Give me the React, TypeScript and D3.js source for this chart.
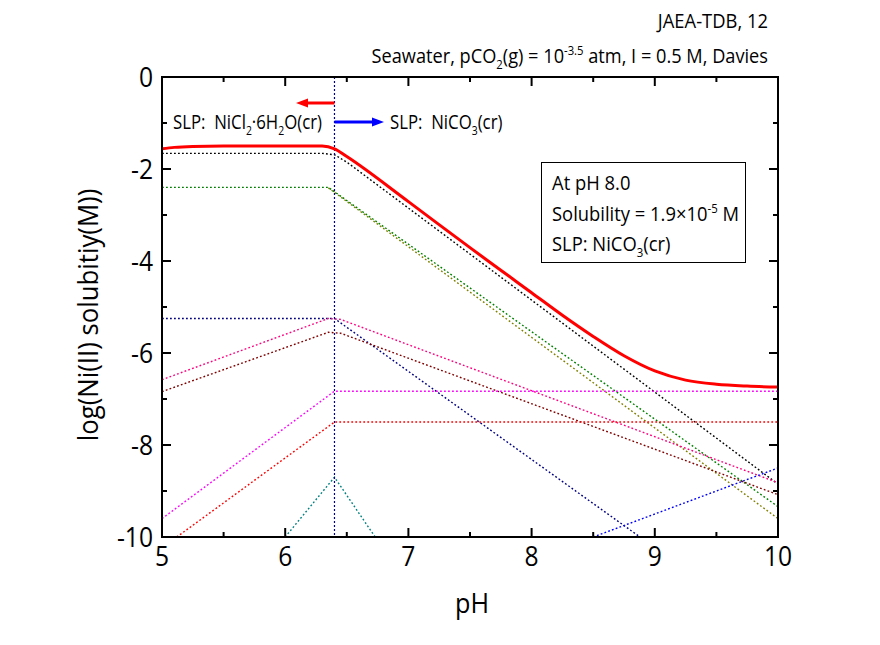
import React from "react";
import * as d3 from "d3";

// ---- data (pH, log[Ni] in M) ----
const totalCurve: [number, number][] = [
  [5.0, -1.56], [5.1, -1.53], [5.25, -1.51], [5.5, -1.5], [6.0, -1.5], [6.3, -1.5],
  [6.4, -1.56], [6.5, -1.73], [7.0, -2.71], [7.5, -3.71], [7.75, -4.2], [8.0, -4.69],
  [8.25, -5.18], [8.5, -5.64], [8.75, -6.06], [9.0, -6.39], [9.25, -6.59], [9.5, -6.68],
  [9.75, -6.72], [10.0, -6.74],
];
const blackSpecies: [number, number][] = [[5, -1.66], [6.3, -1.66], [6.4, -1.69], [6.5, -1.85], [10, -8.85]];
const oliveSpecies: [number, number][] = [[6.35, -2.41], [10, -9.6]];
const greenSpecies: [number, number][] = [[5, -2.4], [6.35, -2.4], [10, -9.34]];
const navySpecies: [number, number][] = [[5, -5.25], [6.4, -5.25], [8.88, -10]];
const pinkSpecies: [number, number][] = [[5, -6.58], [6.35, -5.25], [6.45, -5.27], [10, -8.82]];
const maroonSpecies: [number, number][] = [[5, -6.84], [6.35, -5.55], [6.45, -5.57], [10, -9.08]];
const magentaSpecies: [number, number][] = [[5, -9.6], [6.4, -6.83], [10, -6.83]];
const redSpecies: [number, number][] = [[5.12, -10], [6.4, -7.5], [10, -7.5]];
const tealSpecies: [number, number][] = [[6.0, -10], [6.4, -8.7], [6.73, -10]];
const blueSpecies: [number, number][] = [[8.5, -10], [10, -8.5]];

const speciesList: { data: [number, number][]; color: string }[] = [
  { data: oliveSpecies, color: "#808000" },
  { data: greenSpecies, color: "#008000" },
  { data: blackSpecies, color: "#000000" },
  { data: navySpecies, color: "#000080" },
  { data: pinkSpecies, color: "#ff0080" },
  { data: maroonSpecies, color: "#800000" },
  { data: magentaSpecies, color: "#ff00ff" },
  { data: redSpecies, color: "#ff0000" },
  { data: tealSpecies, color: "#008080" },
  { data: blueSpecies, color: "#0000ff" },
];

const xTicks = [5, 6, 7, 8, 9, 10];
const xMinor = [5.5, 6.5, 7.5, 8.5, 9.5];
const yTicks = [0, -2, -4, -6, -8, -10];
const yMinor = [-1, -3, -5, -7, -9];
const slpBoundary = 6.4;

const FONT = "'Open Sans', sans-serif";

type Part = { t: string; sub?: boolean; sup?: boolean };
function Rich({ parts, fs }: { parts: Part[]; fs: number }) {
  const out: React.ReactNode[] = [];
  let shift = 0;
  parts.forEach((p, i) => {
    const target = p.sub ? fs * 0.3 : p.sup ? -fs * 0.4 : 0;
    const dy = target - shift;
    shift = target;
    out.push(
      <tspan key={i} dy={dy} fontSize={p.sub || p.sup ? fs * 0.62 : fs}>
        {p.t}
      </tspan>
    );
  });
  return <>{out}</>;
}

function CText({
  x, y, fs, sx = 0.9, anchor = "start", rotate = 0, children,
}: {
  x: number; y: number; fs: number; sx?: number; anchor?: string; rotate?: number; children: React.ReactNode;
}) {
  return (
    <g transform={`translate(${x},${y}) rotate(${rotate}) scale(${sx},1)`}>
      <text x={0} y={0} fontSize={fs} textAnchor={anchor} fill="#000" xmlSpace="preserve" style={{ whiteSpace: "pre" }}>
        {children}
      </text>
    </g>
  );
}

export default function App() {
  const W = 880, H = 645;
  const x = d3.scaleLinear().domain([5, 10]).range([162, 778]);
  const y = d3.scaleLinear().domain([-10, 0]).range([537, 77]);
  const line = d3.line<[number, number]>().x((d) => x(d[0])).y((d) => y(d[1]));
  const smooth = d3
    .line<[number, number]>()
    .x((d) => x(d[0]))
    .y((d) => y(d[1]))
    .curve(d3.curveMonotoneX);
  const [x0, x1] = x.range();
  const [yb, yt] = y.range();
  const xb = x(slpBoundary);

  return (
    <svg width={W} height={H} style={{ position: "absolute", left: 0, top: 0, background: "#fff" }} fontFamily={FONT}>
      <defs>
        <clipPath id="plot">
          <rect x={x0} y={yt} width={x1 - x0} height={yb - yt} />
        </clipPath>
      </defs>
      <rect width={W} height={H} fill="#fff" />
      <g clipPath="url(#plot)">
        {speciesList.map((s, i) => (
          <path key={i} d={line(s.data) || ""} fill="none" stroke={s.color} strokeWidth={1.4} strokeDasharray="1.8,2.2" />
        ))}
        <line x1={xb} x2={xb} y1={yt} y2={yb} stroke="#000080" strokeWidth={1.2} strokeDasharray="2,2" />
        <path d={smooth(totalCurve) || ""} fill="none" stroke="#ff0000" strokeWidth={3} />
      </g>
      {/* arrows */}
      <line x1={xb} x2={305} y1={103} y2={103} stroke="#ff0000" strokeWidth={3} />
      <path d={`M296,103 L308,98.5 L308,107.5 Z`} fill="#ff0000" />
      <line x1={xb} x2={375} y1={122} y2={122} stroke="#0000ff" strokeWidth={3} />
      <path d={`M384,122 L372,117.5 L372,126.5 Z`} fill="#0000ff" />
      <CText x={173} y={129} fs={20} sx={0.84}>
        <Rich fs={20} parts={[{ t: "SLP:  NiCl" }, { t: "2", sub: true }, { t: "·6H" }, { t: "2", sub: true }, { t: "O(cr)" }]} />
      </CText>
      <CText x={390} y={129} fs={20} sx={0.84}>
        <Rich fs={20} parts={[{ t: "SLP:  NiCO" }, { t: "3", sub: true }, { t: "(cr)" }]} />
      </CText>
      {/* frame */}
      <rect x={x0} y={yt} width={x1 - x0} height={yb - yt} fill="none" stroke="#000" strokeWidth={2} />
      {xTicks.map((t) => (
        <g key={"xt" + t}>
          <line x1={x(t)} x2={x(t)} y1={yb} y2={yb - 9} stroke="#000" strokeWidth={2} />
          <line x1={x(t)} x2={x(t)} y1={yt} y2={yt + 9} stroke="#000" strokeWidth={2} />
          <CText x={x(t)} y={566} fs={28} sx={0.88} anchor="middle">{t}</CText>
        </g>
      ))}
      {xMinor.map((t) => (
        <g key={"xm" + t}>
          <line x1={x(t)} x2={x(t)} y1={yb} y2={yb - 5} stroke="#000" strokeWidth={2} />
          <line x1={x(t)} x2={x(t)} y1={yt} y2={yt + 5} stroke="#000" strokeWidth={2} />
        </g>
      ))}
      {yTicks.map((t) => (
        <g key={"yt" + t}>
          <line x1={x0} x2={x0 + 9} y1={y(t)} y2={y(t)} stroke="#000" strokeWidth={2} />
          <line x1={x1} x2={x1 - 9} y1={y(t)} y2={y(t)} stroke="#000" strokeWidth={2} />
          <CText x={153} y={y(t) + 10} fs={28} sx={0.88} anchor="end">{t}</CText>
        </g>
      ))}
      {yMinor.map((t) => (
        <g key={"ym" + t}>
          <line x1={x0} x2={x0 + 5} y1={y(t)} y2={y(t)} stroke="#000" strokeWidth={2} />
          <line x1={x1} x2={x1 - 5} y1={y(t)} y2={y(t)} stroke="#000" strokeWidth={2} />
        </g>
      ))}
      <CText x={472} y={613} fs={28} sx={0.9} anchor="middle">pH</CText>
      <CText x={98} y={315} fs={28} sx={0.92} rotate={-90} anchor="middle">log(Ni(II) solubitiy(M))</CText>
      {/* header */}
      <CText x={768} y={28} fs={20} sx={0.92} anchor="end">JAEA-TDB, 12</CText>
      <CText x={768} y={63} fs={20} sx={0.91} anchor="end">
        <Rich fs={20} parts={[{ t: "Seawater, pCO" }, { t: "2", sub: true }, { t: "(g) = 10" }, { t: "-3.5", sup: true }, { t: " atm, I = 0.5 M, Davies" }]} />
      </CText>
      {/* info box */}
      <rect x={541.5} y={162.5} width={204} height={100} fill="#fff" stroke="#000" strokeWidth={1} />
      <CText x={552} y={190} fs={20} sx={0.92}>At pH 8.0</CText>
      <CText x={552} y={221} fs={20} sx={0.92}>
        <Rich fs={20} parts={[{ t: "Solubility = 1.9×10" }, { t: "-5", sup: true }, { t: " M" }]} />
      </CText>
      <CText x={552} y={251} fs={20} sx={0.92}>
        <Rich fs={20} parts={[{ t: "SLP: NiCO" }, { t: "3", sub: true }, { t: "(cr)" }]} />
      </CText>
    </svg>
  );
}
